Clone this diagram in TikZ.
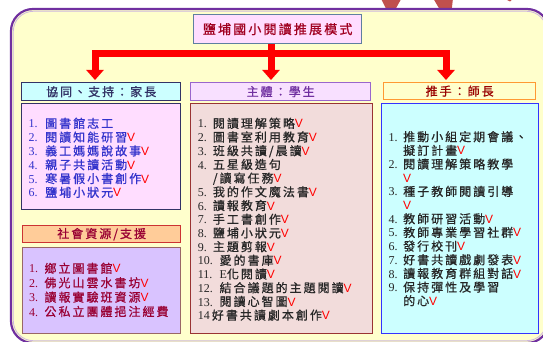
\documentclass[tikz,border=0pt]{standalone}
\usepackage{fontspec}
\setmainfont{Liberation Serif}
\setsansfont{Liberation Sans}
\newfontfamily\cjk[LetterSpace=16.7,FakeBold=0.8]{Noto Sans CJK TC}
\usetikzlibrary{arrows.meta}
\newcommand\zh[1]{{\cjk #1}}
\newcommand\ck{{\color{red}\sffamily\fontsize{12}{12}\selectfont V}}
\newcommand\nm[2]{\makebox[#1][l]{#2}}
\definecolor{frameP}{HTML}{7030A0}
\definecolor{frameF}{HTML}{FFFFCC}
\definecolor{decoR}{HTML}{C0504D}
\definecolor{titleF}{HTML}{FFDDFF}
\definecolor{titleD}{HTML}{5F7FA0}
\definecolor{titleT}{HTML}{A00020}
\definecolor{parHF}{HTML}{CCFFFF}
\definecolor{parD}{HTML}{333366}
\definecolor{parCF}{HTML}{FFDDFF}
\definecolor{parT}{HTML}{3333CC}
\definecolor{socHF}{HTML}{FFCC99}
\definecolor{socHD}{HTML}{CC3333}
\definecolor{socCF}{HTML}{D9C3FF}
\definecolor{socCD}{HTML}{996666}
\definecolor{socT}{HTML}{990033}
\definecolor{stuHF}{HTML}{F8E0FF}
\definecolor{stuHD}{HTML}{9966CC}
\definecolor{stuHT}{HTML}{7030A0}
\definecolor{stuCF}{HTML}{F2DCDB}
\definecolor{stuCD}{HTML}{993333}
\definecolor{teaHF}{HTML}{FFFFCC}
\definecolor{teaHD}{HTML}{FF9933}
\definecolor{teaHT}{HTML}{990000}
\definecolor{teaCF}{HTML}{CCFFFF}
\definecolor{teaCD}{HTML}{3333FF}
\definecolor{darkT}{HTML}{262626}
\begin{document}
\begin{tikzpicture}[x=1pt,y=-1pt,
  box/.style={draw, line width=1.3pt, inner sep=0pt, anchor=north west},
  itm/.style={inner sep=0pt, anchor=base west, font=\fontsize{12}{14}\selectfont},
  redline/.style={draw=red, line width=7pt},
  tip/.style={-{Triangle[width=17pt,length=10pt]}},
]
\useasboundingbox (0,0) rectangle (543,342);
% decorative shapes at the top
\fill[decoR] (380.7,-2) -- (401.7,-2) -- (395,10) -- (386.7,10) -- cycle;
\fill[decoR] (433,-2) -- (453,-2) -- (451.7,10) -- (440,10) -- cycle;
\fill[decoR] (503,-2) -- (514,-2) -- (510,1.5) -- cycle;
% frame
\draw[draw=frameP, line width=2.2pt, fill=frameF, rounded corners=22pt] (11,9) rectangle (549,343);
\draw[draw=frameP!35, line width=0.8pt, rounded corners=20pt] (13.3,11.3) rectangle (546.7,340.7);
% title
\node[box, draw=titleD, fill=titleF, minimum width=168pt, minimum height=29pt, text=titleT,
      font=\fontsize{13}{15}\selectfont] (title) at (193,14) {\zh{鹽埔國小閱讀推展模式}};
% headers and content boxes
\node[box, draw=parD, fill=parHF, minimum width=159pt, minimum height=18pt, text=parD,
      font=\fontsize{12}{14}\selectfont] (hpar) at (21,82) {\zh{協同、支持：家長}};
\node[box, draw=parD, fill=parCF, minimum width=159pt, minimum height=106pt] (cpar) at (21,103) {};
\node[box, draw=socHD, fill=socHF, minimum width=158pt, minimum height=17pt, text=socT,
      font=\fontsize{12}{14}\selectfont] (hsoc) at (22,225) {\zh{社會資源/支援}};
\node[box, draw=socCD, fill=socCF, minimum width=158pt, minimum height=86pt] (csoc) at (22,247) {};
\node[box, draw=stuHD, fill=stuHF, minimum width=180pt, minimum height=18pt, text=stuHT,
      font=\fontsize{12}{14}\selectfont] (hstu) at (190,82) {\zh{主體：學生}};
\node[box, draw=stuCD, fill=stuCF, minimum width=182pt, minimum height=230pt] (cstu) at (190,103) {};
\node[box, draw=teaHD, fill=teaHF, minimum width=152pt, minimum height=17pt, text=teaHT,
      font=\fontsize{12}{14}\selectfont] (htea) at (383,82) {\zh{推手：師長}};
\node[box, draw=teaCD, fill=teaCF, minimum width=157pt, minimum height=230pt] (ctea) at (381,103) {};
% red arrows
\coordinate (bl) at (95,53.5);
\coordinate (bc) at (271,53.5);
\coordinate (br) at (446,53.5);
\draw[redline, {Triangle[width=17pt,length=10pt]}-{Triangle[width=17pt,length=10pt]}, shorten <=2pt, shorten >=2pt]
  (bl |- hpar.north) -- (bl) -- (br) -- (br |- htea.north);
\draw[redline, tip, shorten >=2pt] (bc |- title.south) -- (bc |- hstu.north);
% parents list
\foreach \txt [count=\i from 0] in {
  {\nm{16.7pt}{1.}\zh{圖書館志工}},
  {\nm{16.7pt}{2.}\zh{閱讀知能研習}\ck},
  {\nm{16.7pt}{3.}\zh{義工媽媽說故事}\ck},
  {\nm{16.7pt}{4.}\zh{親子共讀活動}\ck},
  {\nm{16.7pt}{5.}\zh{寒暑假小書創作}\ck},
  {\nm{16.7pt}{6.}\zh{鹽埔小狀元}\ck}}
  \node[itm, text=parT] (p\i) at (28.3, {127.9+13.8*\i}) {\txt};
% social list
\foreach \txt [count=\i from 0] in {
  {\nm{15.3pt}{1.}\zh{鄉立圖書館}\ck},
  {\nm{15.3pt}{2.}\zh{佛光山雲水書坊}\ck},
  {\nm{15.3pt}{3.}\zh{讀報實驗班資源}\ck},
  {\nm{15.3pt}{4.}\zh{公私立團體挹注經費}}}
  \node[itm, text=socT] (s\i) at (29, {272.9+14.4*\i}) {\txt};
% students list
\foreach \txt [count=\i from 0] in {
  {\nm{15pt}{1.}\zh{閱讀理解策略}\ck},
  {\nm{15pt}{2.}\zh{圖書室利用教育}\ck},
  {\nm{15pt}{3.}\zh{班級共讀/晨讀}\ck},
  {\nm{15pt}{4.}\zh{五星級造句}},
  {\nm{15pt}{}\zh{/讀寫任務}\ck},
  {\nm{15pt}{5.}\zh{我的作文魔法書}\ck},
  {\nm{15pt}{6.}\zh{讀報教育}\ck},
  {\nm{15pt}{7.}\zh{手工書創作}\ck},
  {\nm{15pt}{8.}\zh{鹽埔小狀元}\ck},
  {\nm{15pt}{9.}\zh{主題剪報}\ck},
  {\nm{21.7pt}{10.}\zh{愛的書庫}\ck},
  {\nm{21.7pt}{11.}E\zh{化閱讀}\ck},
  {\nm{21.7pt}{12.}\zh{結合議題的主題閱讀}\ck},
  {\nm{21.7pt}{13.}\zh{閱讀心智圖}\ck},
  {\nm{14pt}{14}\zh{好書共讀劇本創作}\ck}}
  \node[itm, text=darkT] (u\i) at (197.7, {127.9+13.7*\i}) {\txt};
% teachers list
\foreach \txt [count=\i from 0] in {
  {\nm{14.7pt}{1.}\zh{推動小組定期會議、}},
  {\nm{14.7pt}{}\zh{擬訂計畫}\ck},
  {\nm{14.7pt}{2.}\zh{閱讀理解策略教學}},
  {\nm{14.7pt}{}\ck},
  {\nm{14.7pt}{3.}\zh{種子教師閱讀引導}},
  {\nm{14.7pt}{}\ck},
  {\nm{14.7pt}{4.}\zh{教師研習活動}\ck},
  {\nm{14.7pt}{5.}\zh{教師專業學習社群}\ck},
  {\nm{14.7pt}{6.}\zh{發行校刊}\ck},
  {\nm{14.7pt}{7.}\zh{好書共讀戲劇發表}\ck},
  {\nm{14.7pt}{8.}\zh{讀報教育群組對話}\ck},
  {\nm{14.7pt}{9.}\zh{保持彈性及學習}},
  {\nm{14.7pt}{}\zh{的心}\ck}}
  \node[itm, text=darkT] (t\i) at (388.3, {141.3+13.67*\i}) {\txt};
\end{tikzpicture}
\end{document}
